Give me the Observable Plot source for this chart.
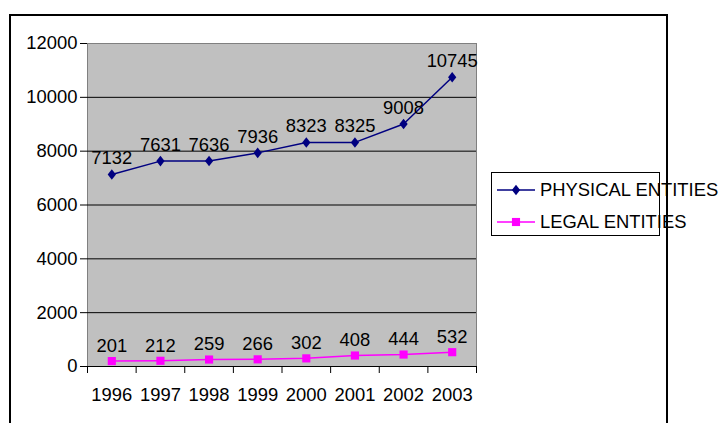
<!DOCTYPE html>
<html>
<head>
<meta charset="utf-8">
<script src="https://cdn.jsdelivr.net/npm/d3@7"></script>
<script src="https://cdn.jsdelivr.net/npm/@observablehq/plot@0.6"></script>
<style>
  html, body { margin: 0; padding: 0; background: #fff; overflow: hidden; }
  #wrap { position: relative; width: 722px; height: 423px; font-family: "Liberation Sans", Arial, sans-serif; }
  #chart { position: absolute; left: 0; top: 0; }
  #frame { position: absolute; left: 9px; top: 14px; width: 655px; height: 430px;
           border: 2px solid #000; border-bottom: none; pointer-events: none; }
  #legend { position: absolute; left: 491px; top: 172px; width: 167px; height: 62px;
            border: 1px solid #000; background: #fff; }
  .row { position: absolute; left: 0; height: 32px; display: flex; align-items: center; white-space: nowrap;
         font-size: 18.4px; color: #000; }
  .row svg { margin-left: 5px; margin-right: 5px; }
</style>
</head>
<body>
<div id="wrap">
  <div id="chart"></div>
  <div id="legend"></div>
  <div id="frame"></div>
</div>
<script>
// Registered entities per year
const years = [1996, 1997, 1998, 1999, 2000, 2001, 2002, 2003];
const physicalEntities = [7132, 7631, 7636, 7936, 8323, 8325, 9008, 10745];
const legalEntities = [201, 212, 259, 266, 302, 408, 444, 532];
const seriesNames = ["PHYSICAL ENTITIES", "LEGAL ENTITIES"];
const seriesColors = ["#000080", "#ff00ff"];
const yTicks = [0, 2000, 4000, 6000, 8000, 10000, 12000];

// Compact diamond marker (wider than d3's default)
const diamond = {
  draw(context, size) {
    const r = Math.sqrt(size / Math.PI);
    const w = r * 0.9, h = r * 1.15;
    context.moveTo(0, -h);
    context.lineTo(w, 0);
    context.lineTo(0, h);
    context.lineTo(-w, 0);
    context.closePath();
  }
};
const symbols = [diamond, "square"];

const physRows = years.map((year, i) => ({year, value: physicalEntities[i]}));
const legalRows = years.map((year, i) => ({year, value: legalEntities[i]}));
const boundaries = [...years.map(y => y - 0.5), years[years.length - 1] + 0.5];
const fs = 18.4;

const chart = Plot.plot({
  width: 722,
  height: 423,
  marginLeft: 87,
  marginRight: 246,
  marginTop: 43,
  marginBottom: 57,
  style: {fontFamily: "'Liberation Sans', Arial, sans-serif", fontSize: fs + "px", background: "transparent", overflow: "visible", color: "#000"},
  x: {type: "linear", domain: [boundaries[0], boundaries[boundaries.length - 1]]},
  y: {domain: [0, 12000]},
  marks: [
    Plot.frame({fill: "#c0c0c0", stroke: "#808080"}),
    Plot.ruleY(yTicks.filter(v => v > 0 && v < 12000), {stroke: "#000"}),
    Plot.ruleY([0], {stroke: "#000"}),
    Plot.axisY({ticks: yTicks, tickSize: 7, tickPadding: 3, tickFormat: d => String(d), fontSize: fs, label: null}),
    Plot.axisX({ticks: boundaries, tickSize: 7, tickFormat: () => "", label: null}),
    Plot.axisX({ticks: years, tickSize: 0, tickPadding: 21, tickFormat: d => String(d), fontSize: fs, label: null}),
    Plot.line(physRows, {x: "year", y: "value", stroke: seriesColors[0], strokeWidth: 1.5}),
    Plot.dot(physRows, {x: "year", y: "value", symbol: () => symbols[0], r: 4.6, fill: seriesColors[0], stroke: null}),
    Plot.line(legalRows, {x: "year", y: "value", stroke: seriesColors[1], strokeWidth: 1.5}),
    Plot.dot(legalRows, {x: "year", y: "value", symbol: () => symbols[1], r: 4.6, fill: seriesColors[1], stroke: null}),
    Plot.text(physRows, {x: "year", y: "value", text: d => String(d.value), dy: -16, fontSize: fs, fill: "#000"}),
    Plot.text(legalRows, {x: "year", y: "value", text: d => String(d.value), dy: -15, fontSize: fs, fill: "#000"})
  ]
});
document.getElementById("chart").appendChild(chart);

// Legend
const legend = document.getElementById("legend");
seriesNames.forEach((name, i) => {
  const row = document.createElement("div");
  row.className = "row";
  row.style.top = (1 + i * 32) + "px";
  const sw = d3.create("svg").attr("width", 38).attr("height", 14);
  sw.append("line").attr("x1", 0).attr("x2", 38).attr("y1", 7).attr("y2", 7)
    .attr("stroke", seriesColors[i]).attr("stroke-width", 1.5);
  sw.append("path").attr("transform", "translate(19,7)")
    .attr("d", d3.symbol(i === 0 ? diamond : d3.symbolSquare, 66)())
    .attr("fill", seriesColors[i]);
  row.appendChild(sw.node());
  const label = document.createElement("span");
  label.textContent = name;
  row.appendChild(label);
  legend.appendChild(row);
});
</script>
</body>
</html>
